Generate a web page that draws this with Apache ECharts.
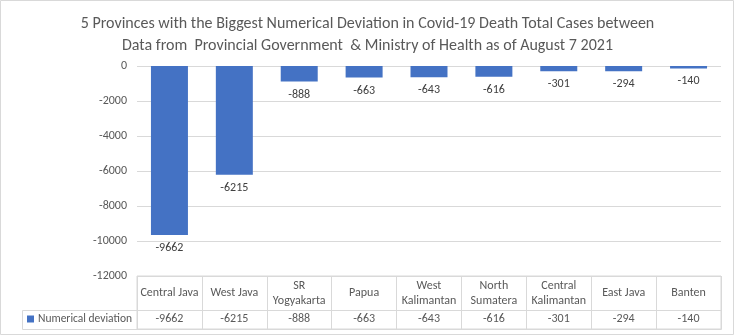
<!DOCTYPE html>
<html><head><meta charset="utf-8">
<script src="https://cdn.jsdelivr.net/npm/echarts@6/dist/echarts.min.js"></script>
<style>html,body{margin:0;padding:0;background:#fff}#c{width:735px;height:336px}</style>
</head><body><div id="c"></div>
<script>
const titleLines = ['5 Provinces with the Biggest Numerical Deviation in Covid-19 Death Total Cases between', 'Data from  Provincial Government  & Ministry of Health as of August 7 2021'];
const categories = ['Central Java','West Java','SR Yogyakarta','Papua','West Kalimantan','North Sumatera','Central Kalimantan','East Java','Banten'];
const values = [-9662,-6215,-888,-663,-643,-616,-301,-294,-140];
const seriesName = 'Numerical deviation';
const yMin = -12000, yMax = 0, yStep = 2000;

const FONT = "Carlito, Lato, 'Open Sans', sans-serif";
const TXT = '#595959', LINE = '#d9d9d9', BAR = '#4472C4';
const chart = echarts.init(document.getElementById('c'));
function wrap(s){ return s.length > 12 ? s.replace(' ', '\n') : s; }
chart.setOption({
  animation:false,
  textStyle:{fontFamily:FONT},
  title:{text:titleLines.join('\n'), left:'center', top:8, textStyle:{fontFamily:FONT,fontSize:16,fontWeight:'normal',color:TXT,lineHeight:22}},
  legend:{data:[seriesName], left:27, top:313, padding:0, icon:'rect', itemWidth:7, itemHeight:7, itemGap:4,
    textStyle:{fontFamily:FONT,fontSize:11.5,color:TXT,padding:[0,0,0,-1]}},
  grid:[{left:137, right:14, top:66, bottom:60},
        {left:137, right:14, top:276, height:53, show:true, borderColor:LINE, borderWidth:1}],
  xAxis:[{type:'category', data:categories, gridIndex:0, axisLine:{show:false}, axisTick:{show:false}, axisLabel:{show:false}},
    {type:'category', data:categories, gridIndex:1, position:'top',
      axisLine:{show:false}, axisTick:{show:false},
      splitLine:{show:true, lineStyle:{color:LINE}},
      axisLabel:{interval:0, inside:true, margin:17, verticalAlign:'middle', fontFamily:FONT, fontSize:12, color:TXT, lineHeight:15, formatter:wrap}},
    {type:'category', data:categories, gridIndex:1, position:'bottom',
      axisLine:{show:false}, axisTick:{show:false},
      axisLabel:{interval:0, inside:true, margin:10, verticalAlign:'middle', fontFamily:FONT, fontSize:12, color:TXT,
        formatter:(v,i)=>String(values[i])}}],
  yAxis:[{type:'value', min:yMin, max:yMax, interval:yStep, gridIndex:0,
    axisLine:{show:false}, axisTick:{show:false},
    splitLine:{lineStyle:{color:LINE}},
    axisLabel:{margin:10, fontFamily:FONT, fontSize:12, color:TXT, formatter:v=>String(v)}},
    {type:'value', gridIndex:1, show:false, min:0, max:1}],
  graphic:[
    {type:'rect', shape:{x:22.5,y:310.5,width:699,height:19}, style:{fill:'none',stroke:LINE,lineWidth:1}, z:0},
    {type:'rect', shape:{x:0.5,y:0.5,width:733,height:334}, style:{fill:'none',stroke:LINE,lineWidth:1}, z:0}
  ],
  series:[{type:'bar', name:seriesName, data:values, xAxisIndex:0, yAxisIndex:0, barWidth:'57%', itemStyle:{color:BAR},
    label:{show:true, position:'bottom', distance:7, fontFamily:FONT, fontSize:12, color:'#404040'}}]
});
</script></body></html>
